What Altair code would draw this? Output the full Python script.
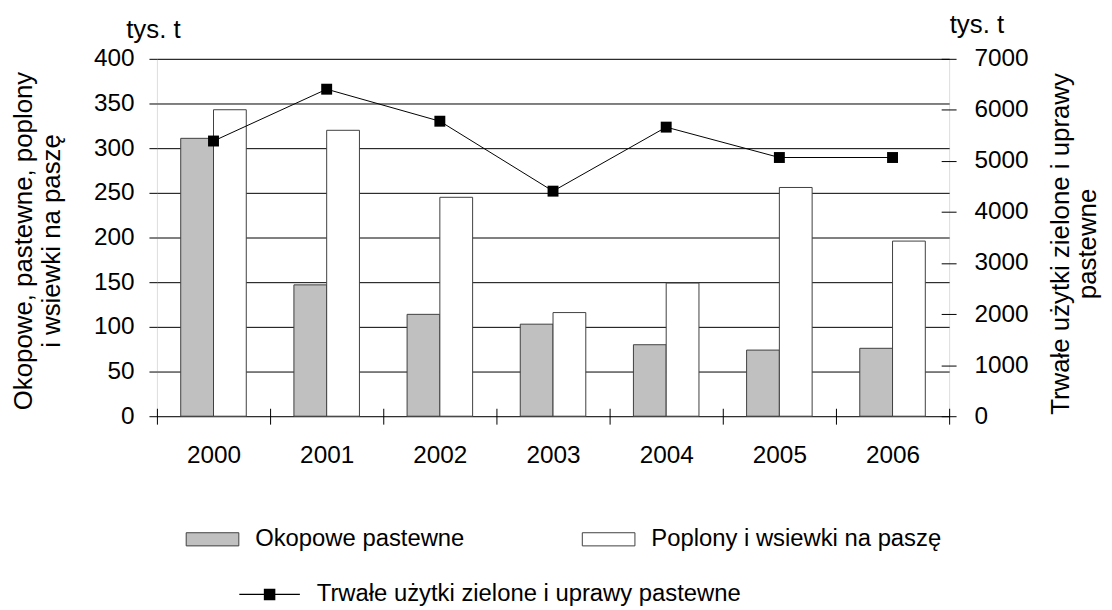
import altair as alt
import pandas as pd

years = ["2000", "2001", "2002", "2003", "2004", "2005", "2006"]
okopowe = [311, 147, 114, 103, 80, 74, 76]
poplony = [343, 320, 245, 116, 149, 256, 196]
trwale = [5390, 6405, 5778, 4408, 5662, 5067, 5067]

bar_series = ["Okopowe pastewne", "Poplony i wsiewki na paszę"]
line_series = ["Trwałe użytki zielone i uprawy pastewne"]
left_ticks = list(range(0, 401, 50))
right_ticks = list(range(0, 7001, 1000))
left_title = ["Okopowe, pastewne, poplony", "i wsiewki na paszę"]
right_title = ["Trwałe użytki zielone i uprawy", "pastewne"]
unit_left = ["tys. t"]
unit_right = ["tys. t"]

FONT = "Liberation Sans"
LFS = 24.5   # axis tick labels
TFS = 26     # axis titles
GFS = 24     # legend labels

bars_df = pd.DataFrame(
    [{"year": y, "series": bar_series[0], "value": v} for y, v in zip(years, okopowe)]
    + [{"year": y, "series": bar_series[1], "value": v} for y, v in zip(years, poplony)]
)
line_df = pd.DataFrame({"year": years, "value": trwale, "series": line_series * len(years)})

x_enc = alt.X(
    "year:N",
    sort=years,
    scale=alt.Scale(paddingInner=0, paddingOuter=0),
    axis=alt.Axis(
        orient="bottom", offset=-8, tickSize=16, domain=False, labelAngle=0,
        labelFontSize=LFS, labelFont=FONT, labelColor="black", labelPadding=20,
        tickColor="black", tickWidth=1, tickBand="extent", title=None, grid=False,
    ),
)

bars = alt.Chart(bars_df).mark_bar(stroke="#404040", strokeWidth=1).encode(
    x=x_enc,
    xOffset=alt.XOffset("series:N", sort=bar_series,
                        scale=alt.Scale(paddingInner=0, paddingOuter=0.727)),
    y=alt.Y(
        "value:Q",
        scale=alt.Scale(domain=[0, 400], nice=False),
        axis=alt.Axis(
            orient="left", values=left_ticks, grid=True, gridColor="black", gridWidth=1,
            gridOpacity=1, domain=False, tickSize=8, tickColor="black",
            labelFontSize=LFS, labelFont=FONT, labelColor="black", labelPadding=15,
            title=left_title, titleFont=FONT, titleFontSize=TFS, titleFontWeight="normal",
            titleColor="black", titleAngle=-90, titleX=-126, titleY=183,
            titleAlign="center", titleBaseline="alphabetic", titleLineHeight=28,
        ),
    ),
    fill=alt.Fill(
        "series:N",
        sort=bar_series,
        scale=alt.Scale(domain=bar_series, range=["#c0c0c0", "#ffffff"]),
        legend=alt.Legend(
            orient="none", legendX=29, legendY=457, direction="horizontal", title=None,
            symbolType="M-1,-0.25H1V0.25H-1Z", symbolSize=2809,
            symbolStrokeColor="#404040", symbolStrokeWidth=1, symbolOpacity=1,
            labelFont=FONT, labelFontSize=GFS, labelColor="black", labelOffset=16,
            columnPadding=116, labelLimit=1000,
        ),
    ),
)

y_right = alt.Y(
    "value:Q",
    scale=alt.Scale(domain=[0, 7000], nice=False),
    axis=alt.Axis(
        orient="right", values=right_ticks, format="d", grid=False, domain=False, offset=-8,
        tickSize=15, tickColor="black", labelFontSize=LFS, labelFont=FONT,
        labelColor="black", labelPadding=18,
        title=right_title, titleFont=FONT, titleFontSize=TFS, titleFontWeight="normal",
        titleColor="black", titleAngle=-90, titleX=128, titleY=186,
        titleAlign="center", titleBaseline="alphabetic", titleLineHeight=27,
    ),
)

line = alt.Chart(line_df).mark_line(color="black", strokeWidth=1).encode(
    x=alt.X("year:N", sort=years), y=y_right
)
points = alt.Chart(line_df).mark_point(shape="square", size=121, filled=True, opacity=1).encode(
    x=alt.X("year:N", sort=years),
    y=y_right,
    fill=alt.Fill(
        "series:N",
        scale=alt.Scale(domain=line_series, range=["black"]),
        legend=alt.Legend(
            orient="none", legendX=83, legendY=509, title=None,
            symbolType="M-1,-0.02H1V0.02H-1Z M-0.19,-0.19H0.19V0.19H-0.19Z",
            symbolSize=3721, symbolStrokeWidth=0, symbolOpacity=1,
            labelFont=FONT, labelFontSize=GFS, labelColor="black", labelOffset=17,
            labelLimit=1000,
        ),
    ),
)
right_layer = alt.layer(line, points)

txt_left = alt.Chart(pd.DataFrame({"u": unit_left})).mark_text(
    font=FONT, fontSize=TFS, align="center", baseline="alphabetic", color="black"
).encode(x=alt.value(-3.5), y=alt.value(-21), text="u:N")
txt_right = alt.Chart(pd.DataFrame({"u": unit_right})).mark_text(
    font=FONT, fontSize=TFS, align="center", baseline="alphabetic", color="black"
).encode(x=alt.value(826), y=alt.value(-26), text="u:N")

chart = alt.layer(bars, right_layer, txt_left, txt_right).resolve_scale(
    y="independent", fill="independent"
).properties(
    width=798, height=360,
    autosize=alt.AutoSizeParams(type="none"),
    padding={"left": 150, "top": 49, "right": 156, "bottom": 191},
).configure_view(stroke="black", strokeWidth=1).configure(font=FONT)

chart.save("out.html", embed_options={"renderer": "svg", "actions": False})
